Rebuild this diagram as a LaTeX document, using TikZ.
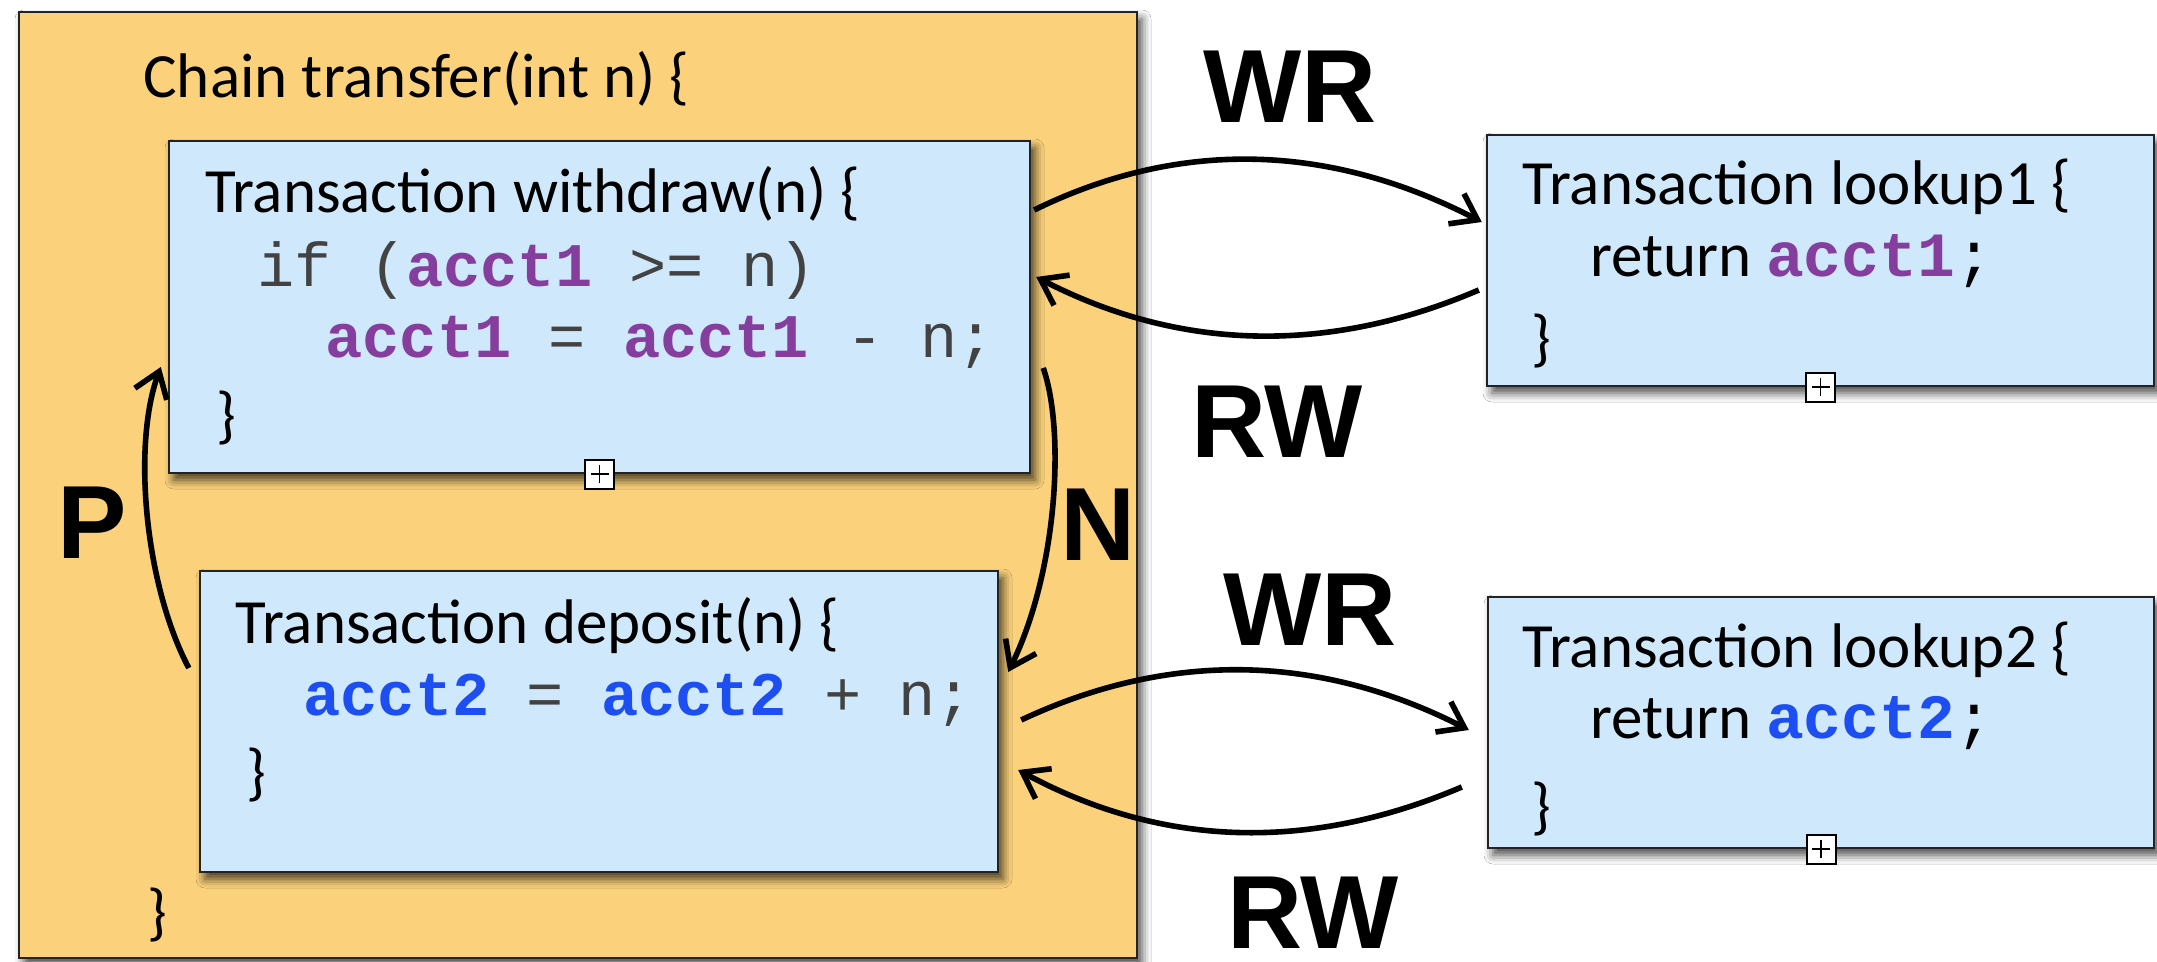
\documentclass[tikz,border=0pt]{standalone}
\usepackage{fontspec}
\setmainfont{Carlito}
\newfontfamily\codefont{Liberation Mono}
\newfontfamily\tagfont{Liberation Sans}
\usetikzlibrary{arrows.meta,fit,calc,shadows.blur}

\definecolor{chainfill}{RGB}{251,210,123}
\definecolor{txfill}{RGB}{208,232,251}
\definecolor{boxline}{RGB}{35,35,35}
\definecolor{acctone}{RGB}{133,62,158}
\definecolor{accttwo}{RGB}{28,78,242}
\definecolor{codegray}{RGB}{66,66,66}

% bold coloured account variable, plain grey code (the {} keeps a leading space)
\newcommand{\cvar}[2]{{\codefont\bfseries\color{#1}{}#2}}
\newcommand{\cplain}[1]{{\codefont\color{codegray}{}#1}}

\begin{document}
\begin{tikzpicture}[x=0.5pt,y=-0.5pt,
  boxshade/.style={blur shadow={shadow xshift=2.5pt, shadow yshift=-3.5pt,
      shadow blur radius=4.5pt, shadow opacity=72}},
  chainbox/.style={draw=boxline, line width=1.2pt, fill=chainfill, inner sep=0pt, boxshade},
  txbox/.style={draw=boxline, line width=1.2pt, fill=txfill, inner sep=0pt, boxshade},
  gs/.style={inner sep=0pt, anchor=base west, font=\fontsize{31.5}{36}\selectfont},
  code/.style={inner sep=0pt, anchor=base west, font=\fontsize{31}{36}\selectfont\codefont},
  tag/.style={inner sep=0pt, anchor=base, font=\fontsize{52}{60}\selectfont\tagfont\bfseries},
  link/.style={line width=2.8pt, -{Straight Barb[length=12pt,width=17pt]}},
  expander/.style={draw=black, line width=1pt, fill=white, minimum width=14.5pt,
      minimum height=14.5pt, inner sep=0pt,
      path picture={\draw[line width=0.9pt]
        ([xshift=-4.5pt]path picture bounding box.center) --
        ([xshift=4.5pt]path picture bounding box.center)
        ([yshift=-4.5pt]path picture bounding box.center) --
        ([yshift=4.5pt]path picture bounding box.center);}}
]
\useasboundingbox (0,0) rectangle (2157,962);
\fill[white] (0,0) rectangle (2157,962);

% outer chain
\node[chainbox, fit={(19,12) (1137,958)}] (chain) {};
\node[gs] (chainhead) at (143,98) {Chain transfer(int n) \{};
\node[gs] (chainend) at (147,933) {\}};

% withdraw transaction
\node[txbox, fit={(169,141) (1030,473)}] (withdraw) {};
\node[gs] (wd1) at (205,213) {Transaction withdraw(n) \{};
\node[code] (wd2) at (257,287) {\cplain{if (}\cvar{acctone}{acct1}\cplain{ >= n)}};
\node[code] (wd3) at (325,358) {\cvar{acctone}{acct1}\cplain{ = }\cvar{acctone}{acct1}\cplain{ - n;}};
\node[gs] (wd4) at (216,437) {\}};
\node[expander] (wdplus) at (withdraw.south) {};

% deposit transaction
\node[txbox, fit={(200,571) (998,872)}] (deposit) {};
\node[gs] (dp1) at (235,643) {Transaction deposit(n) \{};
\node[code] (dp2) at (303,715) {\cvar{accttwo}{acct2}\cplain{ = }\cvar{accttwo}{acct2}\cplain{ + n;}};
\node[gs] (dp3) at (246,793) {\}};

% lookup transactions
\node[txbox, fit={(1487,135) (2154,386)}] (lookup1) {};
\node[gs] (lk1a) at (1522,205) {Transaction lookup1 \{};
\node[gs] (lk1b) at (1590,277) {return \cvar{acctone}{acct1}{\codefont ;}};
\node[gs] (lk1c) at (1531,360) {\}};
\node[expander] (lk1plus) at (lookup1.south) {};

\node[txbox, fit={(1488,597) (2154,848)}] (lookup2) {};
\node[gs] (lk2a) at (1522,667) {Transaction lookup2 \{};
\node[gs] (lk2b) at (1590,738) {return \cvar{accttwo}{acct2}{\codefont ;}};
\node[gs] (lk2c) at (1531,827) {\}};
\node[expander] (lk2plus) at (lookup2.south) {};

% dependency edges
\draw[link] ($(withdraw.east)+(3,-97)$) .. controls (1183,137) and (1333,145) .. ($(lookup1.west)+(-4,-38.5)$);
\draw[link] ($(lookup1.west)+(-7,29.5)$) .. controls (1332,353) and (1183,353) .. ($(withdraw.east)+(5,-30)$);
\draw[link] ($(deposit.east)+(22,-1.5)$) .. controls (1170,650) and (1320,654) .. ($(lookup2.west)+(-18,7.5)$);
\draw[link] ($(lookup2.west)+(-25,64.5)$) .. controls (1314,850) and (1166,850) .. ($(deposit.east)+(19,48.5)$);
\draw[link] ($(withdraw.east)+(12,61)$) .. controls (1065,430) and (1058,570) .. ($(deposit.east)+(9,-49.5)$);
\draw[link] ($(deposit.west)+(-10,-53.5)$) .. controls (145,585) and (132,445) .. ($(withdraw.west)+(-7,60)$);

% edge labels
\node[tag] (wrtop) at (1290,123) {WR};
\node[tag] (rwtop) at (1277,458) {RW};
\node[tag] (wrbot) at (1310,645) {WR};
\node[tag] (rwbot) at (1313,948) {RW};
\node[tag] (nlab) at (1098,560) {N};
\node[tag] (plab) at (92,558) {P};
\end{tikzpicture}
\end{document}
